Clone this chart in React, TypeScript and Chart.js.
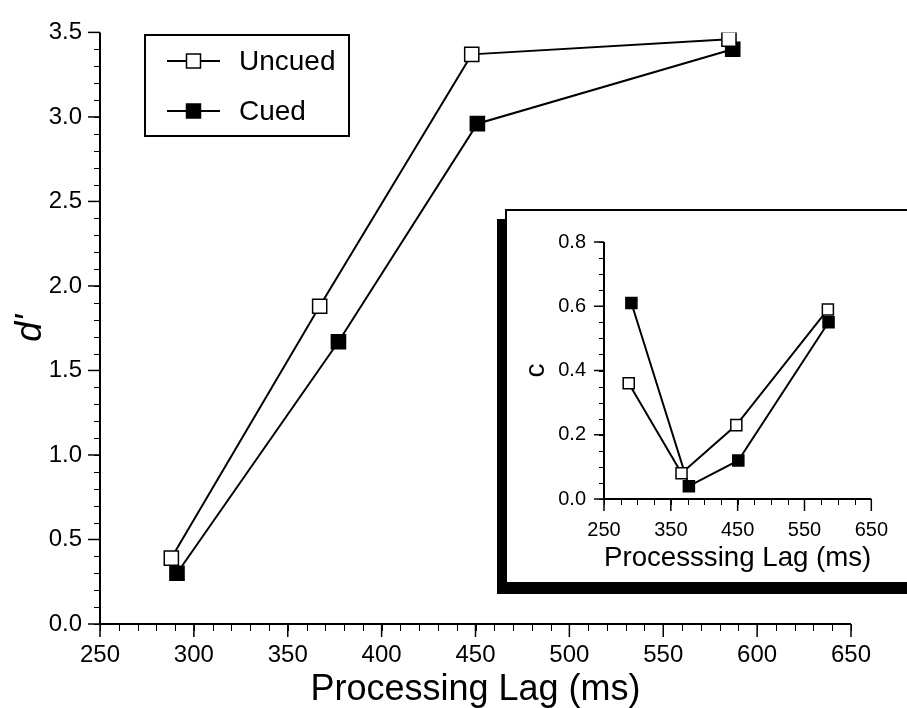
import React, { useEffect, useRef } from 'react';
import { Chart, registerables } from 'chart.js';

Chart.register(...registerables);

// ---- Data ----
const seriesLabels = ['Uncued', 'Cued'];

const mainLagUncued = [288, 367, 448, 585];
const mainDUncued = [0.39, 1.88, 3.37, 3.46];
const mainLagCued = [291, 377, 451, 587];
const mainDCued = [0.3, 1.67, 2.96, 3.4];

const insetLagUncued = [287, 366, 448, 585];
const insetCUncued = [0.36, 0.08, 0.23, 0.59];
const insetLagCued = [291, 377, 451, 586];
const insetCCued = [0.61, 0.04, 0.12, 0.55];

const mainXTicks = [250, 300, 350, 400, 450, 500, 550, 600, 650];
const mainYTicks = [0, 0.5, 1, 1.5, 2, 2.5, 3, 3.5];
const insetXTicks = [250, 350, 450, 550, 650];
const insetYTicks = [0, 0.2, 0.4, 0.6, 0.8];

const FONT = "'Liberation Sans', Arial, Helvetica, sans-serif";

const toPoints = (xs: number[], ys: number[]) => xs.map((x, i) => ({ x, y: ys[i] }));

const axesPlugin = {
  id: 'customAxes',
  beforeDatasetsDraw(chart: any, _args: any, opts: any) {
    const { ctx } = chart;
    const x = chart.scales.x;
    const y = chart.scales.y;
    const x0 = x.getPixelForValue(x.min);
    const x1 = x.getPixelForValue(x.max);
    const y0 = y.getPixelForValue(y.min);
    const y1 = y.getPixelForValue(y.max);
    ctx.save();
    ctx.strokeStyle = '#000';
    // minor ticks
    ctx.lineWidth = 1;
    const nxm = Math.round((x.max - x.min) / opts.xMinor);
    for (let i = 0; i <= nxm; i++) {
      const v = x.min + i * opts.xMinor;
      const px = Math.round(x.getPixelForValue(v)) + 0.5;
      ctx.beginPath();
      ctx.moveTo(px, y0);
      ctx.lineTo(px, y0 + opts.xMinorLen);
      ctx.stroke();
    }
    const nym = Math.round((y.max - y.min) / opts.yMinor);
    for (let i = 0; i <= nym; i++) {
      const v = y.min + i * opts.yMinor;
      const py = Math.round(y.getPixelForValue(v)) + 0.5;
      ctx.beginPath();
      ctx.moveTo(x0, py);
      ctx.lineTo(x0 - opts.yMinorLen, py);
      ctx.stroke();
    }
    // major ticks
    ctx.lineWidth = 1.5;
    (opts.xMajorTicks as number[]).forEach((v) => {
      const px = x.getPixelForValue(v);
      ctx.beginPath();
      ctx.moveTo(px, y0);
      ctx.lineTo(px, y0 + opts.xMajorLen);
      ctx.stroke();
    });
    (opts.yMajorTicks as number[]).forEach((v) => {
      const py = y.getPixelForValue(v);
      ctx.beginPath();
      ctx.moveTo(x0, py);
      ctx.lineTo(x0 - opts.yMajorLen, py);
      ctx.stroke();
    });
    // axis lines
    ctx.lineWidth = opts.axisWidth;
    ctx.beginPath();
    ctx.moveTo(x0, y1);
    ctx.lineTo(x0, y0);
    ctx.lineTo(x1, y0);
    ctx.stroke();
    ctx.restore();
  },
};

const legendPlugin = {
  id: 'boxLegend',
  afterDraw(chart: any, _args: any, opts: any) {
    if (!opts || !opts.show) return;
    const { ctx } = chart;
    ctx.save();
    ctx.strokeStyle = '#000';
    ctx.lineWidth = 2;
    ctx.strokeRect(opts.left, opts.top, opts.width, opts.height);
    chart.data.datasets.forEach((ds: any, i: number) => {
      const cy = opts.firstY + i * opts.rowGap;
      ctx.lineWidth = 2;
      ctx.beginPath();
      ctx.moveTo(opts.lineX0, cy);
      ctx.lineTo(opts.lineX1, cy);
      ctx.stroke();
      const cx = (opts.lineX0 + opts.lineX1) / 2;
      const s = opts.marker;
      ctx.fillStyle = ds.pointBackgroundColor;
      ctx.fillRect(cx - s / 2, cy - s / 2, s, s);
      ctx.lineWidth = 1.5;
      ctx.strokeRect(cx - s / 2, cy - s / 2, s, s);
      ctx.fillStyle = '#000';
      ctx.font = `${opts.fontSize}px ${FONT}`;
      ctx.textBaseline = 'middle';
      ctx.textAlign = 'left';
      ctx.fillText(ds.label, opts.textX, cy + 1);
    });
    ctx.restore();
  },
};

function makeDatasets(
  xu: number[], yu: number[], xc: number[], yc: number[], radius: number
) {
  return [
    {
      label: seriesLabels[0],
      data: toPoints(xu, yu),
      showLine: true,
      borderColor: '#000',
      borderWidth: 2,
      pointStyle: 'rect',
      pointRadius: radius,
      pointBackgroundColor: '#fff',
      pointBorderColor: '#000',
      pointBorderWidth: 1.5,
      tension: 0,
    },
    {
      label: seriesLabels[1],
      data: toPoints(xc, yc),
      showLine: true,
      borderColor: '#000',
      borderWidth: 2,
      pointStyle: 'rect',
      pointRadius: radius,
      pointBackgroundColor: '#000',
      pointBorderColor: '#000',
      pointBorderWidth: 1.5,
      tension: 0,
    },
  ];
}

export default function App() {
  const mainRef = useRef<HTMLCanvasElement | null>(null);
  const insetRef = useRef<HTMLCanvasElement | null>(null);

  useEffect(() => {
    document.body.style.margin = '0';
    Chart.defaults.color = '#000';
    const main = new Chart(mainRef.current as HTMLCanvasElement, {
      type: 'scatter',
      data: {
        datasets: makeDatasets(mainLagUncued, mainDUncued, mainLagCued, mainDCued, 10) as any,
      },
      plugins: [axesPlugin, legendPlugin],
      options: {
        responsive: false,
        animation: false,
        events: [],
        layout: { padding: { left: 0, right: 56, top: 24, bottom: 0 } },
        plugins: {
          legend: { display: false },
          tooltip: { enabled: false },
          customAxes: {
            xMinor: 10, yMinor: 0.1,
            xMajorTicks: mainXTicks, yMajorTicks: mainYTicks,
            xMajorLen: 13, xMinorLen: 7, yMajorLen: 12, yMinorLen: 6,
            axisWidth: 2,
          },
          boxLegend: {
            show: true,
            left: 145, top: 35, width: 204, height: 101,
            firstY: 61, rowGap: 50, lineX0: 167, lineX1: 220,
            marker: 14, textX: 239, fontSize: 28,
          },
        } as any,
        scales: {
          x: {
            type: 'linear',
            min: 250,
            max: 650,
            afterFit: (s: any) => { s.height = 84; },
            grid: { display: false, drawTicks: false },
            border: { display: false },
            ticks: {
              stepSize: 50,
              padding: 17,
              maxRotation: 0,
              font: { family: FONT, size: 24 },
              color: '#000',
            },
            title: {
              display: true,
              text: 'Processing Lag (ms)',
              font: { family: FONT, size: 36, lineHeight: 1 },
              padding: { top: 0, bottom: 0 },
              color: '#000',
            },
          },
          y: {
            type: 'linear',
            min: 0,
            max: 3.5,
            afterFit: (s: any) => { s.width = 100; },
            grid: { display: false, drawTicks: false },
            border: { display: false },
            ticks: {
              stepSize: 0.5,
              padding: 18,
              font: { family: FONT, size: 24 },
              color: '#000',
              callback: (v: any) => Number(v).toFixed(1),
            },
            title: {
              display: true,
              text: "d'",
              font: { family: FONT, size: 36, style: 'italic', lineHeight: 1 },
              padding: { top: 13, bottom: 0 },
              color: '#000',
            },
          },
        },
      } as any,
    });

    const inset = new Chart(insetRef.current as HTMLCanvasElement, {
      type: 'scatter',
      data: {
        datasets: makeDatasets(insetLagUncued, insetCUncued, insetLagCued, insetCCued, 7.8) as any,
      },
      plugins: [axesPlugin],
      options: {
        responsive: false,
        animation: false,
        events: [],
        layout: { padding: { left: 0, right: 33, top: 33, bottom: 0 } },
        plugins: {
          legend: { display: false },
          tooltip: { enabled: false },
          customAxes: {
            xMinor: 25, yMinor: 0.05,
            xMajorTicks: insetXTicks, yMajorTicks: insetYTicks,
            xMajorLen: 12, xMinorLen: 6, yMajorLen: 10, yMinorLen: 5,
            axisWidth: 2,
          },
        } as any,
        scales: {
          x: {
            type: 'linear',
            min: 250,
            max: 650,
            afterFit: (s: any) => { s.height = 85; },
            grid: { display: false, drawTicks: false },
            border: { display: false },
            ticks: {
              stepSize: 100,
              padding: 19,
              maxRotation: 0,
              font: { family: FONT, size: 20 },
              color: '#000',
            },
            title: {
              display: true,
              text: 'Processsing Lag (ms)',
              font: { family: FONT, size: 28, lineHeight: 1 },
              padding: { top: 0, bottom: 12 },
              color: '#000',
            },
          },
          y: {
            type: 'linear',
            min: 0,
            max: 0.8,
            afterFit: (s: any) => { s.width = 99; },
            grid: { display: false, drawTicks: false },
            border: { display: false },
            ticks: {
              stepSize: 0.2,
              padding: 18,
              font: { family: FONT, size: 20 },
              color: '#000',
              callback: (v: any) => Number(v).toFixed(1),
            },
            title: {
              display: true,
              text: 'c',
              font: { family: FONT, size: 28, lineHeight: 1 },
              padding: { top: 17, bottom: 0 },
              color: '#000',
            },
          },
        },
      } as any,
    });

    return () => {
      main.destroy();
      inset.destroy();
    };
  }, []);

  return (
    <div style={{ position: 'relative', width: 907, height: 708, overflow: 'hidden', background: '#fff' }}>
      <canvas ref={mainRef} width={907} height={708} style={{ position: 'absolute', left: 0, top: 0, display: 'block' }} />
      <div
        style={{
          position: 'absolute', left: 505, top: 209, width: 430, height: 375,
          boxSizing: 'border-box', border: '2px solid #000', background: '#fff',
          boxShadow: '-8px 10px 0 0 #000',
        }}
      />
      <canvas ref={insetRef} width={402} height={375} style={{ position: 'absolute', left: 505, top: 209, display: 'block' }} />
    </div>
  );
}
